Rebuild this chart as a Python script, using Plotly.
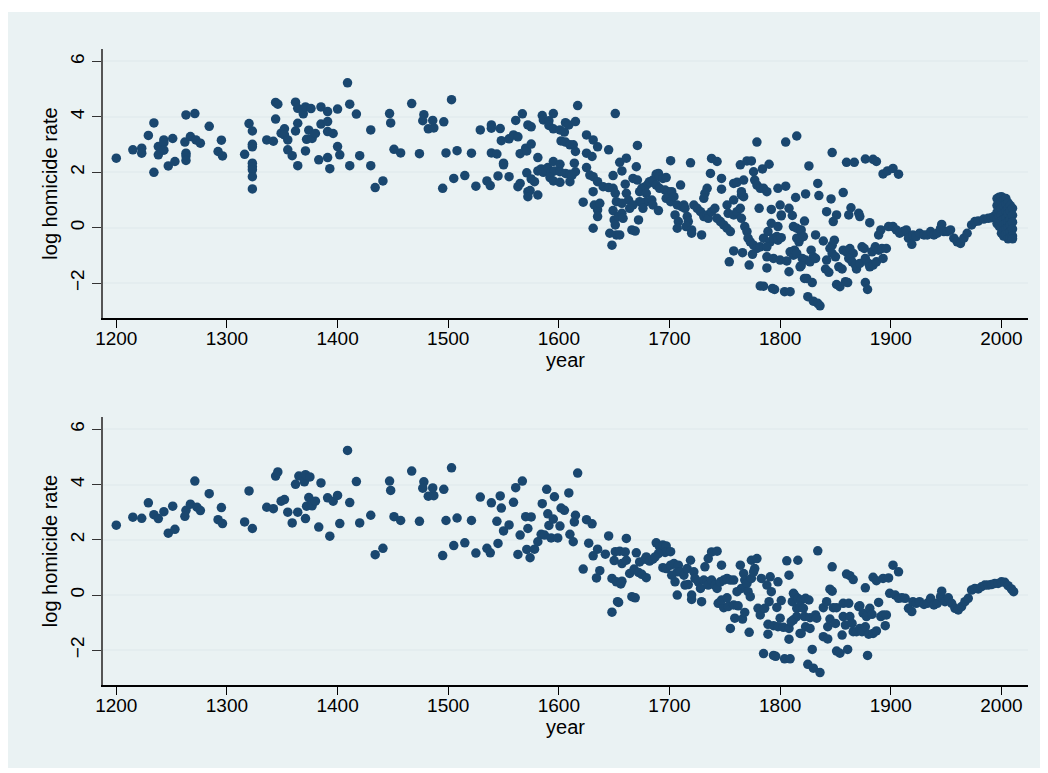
"""Log homicide rate by year: two stacked scatter panels (Stata s2color look)."""

import plotly.graph_objects as go

# ---- top panel -------------------------------------------------------------
top_year_early = [
    1200, 1215, 1223, 1223, 1229, 1234, 1234, 1238, 1238, 1243,
    1243, 1243, 1247, 1251, 1253, 1263, 1271, 1262, 1263, 1263,
    1263, 1267, 1272, 1276, 1284, 1292, 1296, 1295, 1316, 1320,
    1323, 1323, 1323, 1323, 1323, 1323, 1323, 1323, 1336, 1342,
    1344, 1346, 1344, 1349, 1352, 1352, 1355, 1355, 1359, 1362,
    1362, 1364, 1364, 1364, 1369, 1371, 1376, 1371, 1372, 1377,
    1374, 1380, 1383, 1385, 1385, 1391, 1391, 1391, 1396, 1391,
    1393, 1400, 1400, 1402,
]
top_rate_early = [
    2.51, 2.81, 2.87, 2.69, 3.33, 3.78, 2.00, 2.93, 2.63, 3.17,
    3.07, 2.80, 2.23, 3.22, 2.39, 4.07, 4.12, 3.09, 2.69, 2.59,
    2.43, 3.29, 3.17, 3.05, 3.66, 2.75, 2.59, 3.16, 2.65, 3.76,
    3.49, 3.01, 2.92, 2.33, 2.20, 2.09, 1.84, 1.40, 3.17, 3.12,
    4.52, 4.46, 3.92, 3.41, 3.57, 3.35, 3.17, 2.81, 2.60, 4.53,
    3.49, 4.31, 3.77, 2.24, 4.11, 4.36, 4.30, 2.77, 3.19, 3.22,
    3.52, 3.40, 2.45, 4.36, 3.74, 3.83, 4.19, 3.47, 3.40, 2.53,
    2.13, 4.28, 2.93, 2.63,
]

top_year_mid = [
    1409, 1411, 1411, 1417, 1420, 1430, 1430, 1434, 1441, 1447,
    1448, 1451, 1457, 1467, 1474, 1478, 1477, 1482, 1487, 1486,
    1496, 1503, 1495, 1498, 1508, 1505, 1515, 1521, 1525, 1529,
    1535, 1538, 1539, 1539, 1547, 1539, 1544, 1548, 1550, 1550,
    1545, 1555, 1555, 1559, 1563, 1561, 1567, 1565, 1570, 1571,
    1575, 1572, 1575, 1563, 1565, 1571, 1572, 1574, 1572, 1575,
    1578, 1581, 1581, 1585, 1586, 1591, 1591, 1595, 1595, 1601,
    1605, 1606, 1609, 1602, 1606, 1610, 1581, 1584, 1586, 1588,
    1590, 1593, 1595, 1596, 1601, 1601, 1606, 1610, 1592, 1595,
    1601, 1610,
]
top_rate_mid = [
    5.23, 4.46, 2.24, 4.10, 2.60, 3.53, 2.24, 1.45, 1.69, 4.12,
    3.78, 2.83, 2.70, 4.48, 2.67, 4.08, 3.86, 3.57, 3.60, 3.87,
    3.82, 4.62, 1.42, 2.70, 2.78, 1.78, 1.88, 2.69, 1.50, 3.53,
    1.69, 1.52, 3.71, 3.59, 3.58, 2.70, 2.66, 3.14, 2.33, 2.27,
    1.87, 1.84, 3.21, 3.35, 3.28, 3.87, 4.11, 2.67, 2.87, 2.77,
    3.02, 3.71, 3.64, 1.48, 1.60, 1.98, 1.30, 1.34, 1.12, 1.76,
    1.66, 1.18, 2.53, 4.05, 3.89, 3.86, 3.69, 4.12, 3.57, 3.53,
    3.45, 3.79, 3.71, 3.13, 3.09, 2.99, 2.05, 2.12, 2.00, 2.09,
    2.17, 2.00, 2.39, 2.05, 2.29, 2.02, 1.96, 1.93, 1.81, 1.69,
    1.64, 1.66,
]

top_year_late = [
    1615, 1613, 1615, 1614, 1615, 1612, 1617, 1622, 1625, 1631,
    1635, 1625, 1630, 1625, 1628, 1631, 1635, 1631, 1631, 1632,
    1635, 1637, 1635, 1640, 1645, 1649, 1645, 1651, 1655, 1661,
    1657, 1649, 1651, 1652, 1649, 1650, 1654, 1651, 1646, 1652,
    1655, 1648, 1671, 1670, 1660, 1661, 1663, 1657, 1657, 1658,
    1666, 1669, 1672, 1667, 1671, 1673, 1675, 1678, 1679, 1681,
    1682, 1685, 1688, 1690, 1691, 1694, 1697, 1688, 1691, 1696,
    1699, 1679, 1673, 1667, 1664, 1676, 1684, 1685, 1690, 1697,
    1701, 1702, 1704, 1707, 1705, 1708, 1707, 1710, 1711, 1701,
    1719, 1713, 1714, 1716, 1717, 1715, 1720, 1720, 1729, 1722,
    1725, 1728, 1731, 1734, 1735, 1738, 1741, 1743, 1746, 1749,
    1752, 1755, 1752, 1753, 1758, 1761, 1764, 1765, 1768, 1770,
    1771, 1773, 1776, 1779, 1782, 1785, 1789, 1792, 1791, 1794,
    1797, 1798, 1801, 1738, 1743, 1737, 1747, 1747, 1734, 1732,
    1731, 1758, 1758, 1761, 1765, 1767, 1765, 1764, 1770, 1774,
    1776, 1767, 1777, 1779, 1782, 1785, 1788, 1779, 1784, 1790,
    1781, 1792, 1798, 1800, 1801, 1805, 1808, 1812, 1814, 1815,
    1805, 1815, 1754, 1772, 1775, 1758, 1766, 1782, 1785, 1793,
    1795, 1804, 1809, 1788, 1794, 1800, 1806, 1812, 1788, 1808,
    1818, 1788, 1798, 1801, 1809, 1817, 1818,
]
top_rate_late = [
    3.83, 2.99, 2.75, 2.33, 2.02, 1.90, 4.41, 0.92, 3.35, 3.17,
    2.92, 2.69, 2.57, 2.17, 1.90, 1.84, 1.66, 1.30, -0.02, 0.82,
    0.64, 0.88, 0.40, 1.48, 1.45, 1.42, 2.81, 4.12, 2.36, 2.51,
    2.05, 1.88, 1.24, 0.94, 0.62, 0.28, 0.40, 0.10, -0.20, -0.26,
    -0.26, -0.63, 2.97, 2.20, 1.57, 1.24, 1.00, 0.88, 0.52, 0.34,
    -0.08, -0.12, 0.28, 1.78, 1.72, 1.30, 1.42, 1.48, 1.24, 1.60,
    1.66, 1.72, 1.93, 1.96, 1.84, 1.78, 1.81, 1.54, 1.42, 1.36,
    1.30, 0.94, 0.94, 0.82, 0.70, 0.70, 1.00, 0.82, 0.62, 1.06,
    0.94, 1.30, 1.12, 0.82, 0.46, 0.22, -0.02, 1.54, 0.76, 2.42,
    2.34, 0.82, 0.70, 0.40, 0.22, 0.04, -0.08, -0.20, -0.26, 0.82,
    0.70, 0.58, 0.40, 0.46, 0.34, 0.58, 0.70, 0.34, 0.22, 0.10,
    -0.02, -0.14, 0.82, 0.52, 0.46, 0.58, 0.70, 0.34, 0.04, -0.14,
    -0.38, -0.51, -0.63, -0.75, -0.69, -0.38, -0.14, 0.16, -0.51, -0.38,
    -0.32, 0.04, 0.46, 2.50, 2.39, 1.96, 1.78, 1.39, 1.42, 1.24,
    1.06, 1.00, 1.60, 1.64, 1.18, 1.12, 1.30, 2.27, 2.41, 2.41,
    2.02, 1.72, 1.72, 1.54, 1.42, 1.42, 1.30, 3.09, 2.12, 2.29,
    0.70, 0.66, 1.42, 0.82, 0.43, 1.50, 0.70, 0.04, 1.09, -0.38,
    3.09, 3.31, -1.23, -1.35, -0.96, -0.84, -0.90, -2.10, -2.11, -2.19,
    -2.23, -2.31, -2.31, -1.05, -1.11, -1.17, -1.20, -0.99, -1.45, -1.59,
    -1.41, -0.69, -0.45, -0.36, -0.87, -0.51, -0.08,
]

top_year_1800s = [
    1811, 1815, 1819, 1818, 1821, 1813, 1815, 1823, 1826, 1822,
    1820, 1823, 1819, 1822, 1824, 1829, 1825, 1830, 1834, 1836,
    1832, 1828, 1830, 1827, 1832, 1834, 1835, 1839, 1842, 1846,
    1847, 1851, 1848, 1849, 1847, 1845, 1847, 1842, 1841, 1844,
    1850, 1853, 1856, 1851, 1854, 1859, 1861, 1857, 1860, 1867,
    1864, 1862, 1871, 1872, 1857, 1860, 1863, 1866, 1862, 1865,
    1868, 1869, 1872, 1874, 1876, 1877, 1880, 1881, 1884, 1887,
    1883, 1886, 1889, 1892, 1896, 1893, 1889, 1891, 1877, 1879,
    1877, 1884, 1887, 1893, 1897, 1902, 1907, 1881,
]
top_rate_1800s = [
    0.44, -0.02, -0.08, -0.38, -0.32, -0.81, -0.93, 1.22, 2.23, 0.24,
    -1.11, -1.17, -1.37, -1.83, -1.83, -1.98, -2.49, -2.65, -2.73, -2.82,
    -0.26, -0.81, -1.05, -1.23, -1.11, 1.60, 1.16, -0.48, 0.58, 1.04,
    2.71, 0.46, 0.22, -0.45, -0.63, -0.75, -0.93, -1.17, -1.49, -1.61,
    -1.05, -1.41, -1.49, -2.05, -2.13, -1.95, -1.98, 1.27, 2.36, 2.36,
    0.72, 0.46, 0.52, 0.40, -0.81, -0.87, -0.75, -0.93, -1.11, -1.23,
    -1.35, -1.49, -1.29, -0.69, -0.75, -1.11, -1.29, -1.41, -1.35, -1.23,
    -0.87, -0.69, -0.81, -0.75, -0.75, -1.11, -0.26, -0.08, -1.98, -2.23,
    2.48, 2.47, 2.39, 1.94, 2.05, 2.14, 1.93, 0.18,
]

top_year_1900s = [
    1898, 1902, 1905, 1908, 1911, 1914, 1916, 1919, 1920, 1923,
    1926, 1930, 1933, 1936, 1939, 1942, 1945, 1946, 1948, 1951,
    1954, 1957, 1960, 1963, 1966, 1969, 1973, 1976, 1979, 1984,
    1988, 1991, 1993,
]
top_rate_1900s = [
    0.04, 0.04, -0.08, -0.20, -0.14, -0.08, -0.38, -0.60, -0.26, -0.32,
    -0.20, -0.26, -0.26, -0.14, -0.26, -0.20, -0.02, 0.12, -0.14, -0.14,
    -0.08, -0.38, -0.51, -0.57, -0.38, -0.20, 0.10, 0.22, 0.24, 0.31,
    0.34, 0.36, 0.40,
]

# many countries after 1995
top_year_recent = [
    1996, 1996, 1996, 1996, 1996,
    1998, 1998, 1998, 1998, 1998, 1998,
    2000, 2000, 2000, 2000, 2000, 2000, 2000,
    2002, 2002, 2002, 2002, 2002, 2002, 2002,
    2004, 2004, 2004, 2004, 2004, 2004, 2004,
    2006, 2006, 2006, 2006, 2006, 2006, 2006,
    2008, 2008, 2008, 2008, 2008, 2008,
    2010, 2010, 2010, 2010, 2010, 2010,
]
top_rate_recent = [
    1.05, 0.80, 0.55, 0.30, 0.15,
    1.10, 0.90, 0.60, 0.40, 0.20, 0.05,
    1.12, 0.95, 0.70, 0.45, 0.25, 0.00, -0.20,
    1.00, 0.80, 0.50, 0.30, 0.10, -0.10, -0.30,
    1.05, 0.85, 0.60, 0.35, 0.15, -0.05, -0.25,
    0.90, 0.70, 0.50, 0.20, 0.00, -0.20, -0.40,
    0.80, 0.60, 0.30, 0.10, -0.15, -0.35,
    0.70, 0.45, 0.20, -0.05, -0.30, -0.40,
]

# ---- bottom panel ----------------------------------------------------------
bot_year_early = [
    1200, 1215, 1223, 1229, 1234, 1238, 1243, 1247, 1253, 1251,
    1263, 1262, 1267, 1271, 1273, 1276, 1284, 1292, 1296, 1295,
    1316, 1320, 1323, 1336, 1342, 1344, 1346, 1349, 1352, 1355,
    1359, 1362, 1364, 1365, 1370, 1371, 1375, 1371, 1374, 1372,
    1377, 1380, 1383, 1385, 1391, 1396, 1393, 1400, 1402, 1409,
    1411, 1417, 1420, 1430, 1434, 1441, 1447, 1448, 1451, 1457,
    1467, 1474, 1478, 1477, 1482, 1487, 1486, 1496, 1503, 1495,
    1498, 1508, 1505, 1515, 1521, 1525, 1529, 1535, 1538, 1539,
    1547, 1544, 1548, 1550, 1545, 1555, 1559, 1561, 1567, 1563,
    1565, 1570, 1575, 1572, 1571, 1574, 1578, 1581, 1585, 1589,
    1590, 1591, 1595, 1596, 1601, 1602, 1605, 1584, 1587, 1593,
    1599, 1609, 1610,
]
bot_rate_early = [
    2.53, 2.82, 2.78, 3.34, 2.91, 2.77, 3.02, 2.24, 2.38, 3.22,
    3.07, 2.85, 3.29, 4.13, 3.18, 3.06, 3.67, 2.73, 2.59, 3.17,
    2.65, 3.77, 2.41, 3.18, 3.13, 4.31, 4.46, 3.40, 3.46, 3.00,
    2.61, 4.01, 3.00, 4.31, 4.10, 4.36, 4.28, 2.77, 3.53, 3.22,
    3.23, 3.40, 2.46, 4.06, 3.52, 3.40, 2.13, 3.61, 2.59, 5.24,
    3.35, 4.11, 2.61, 2.89, 1.46, 1.69, 4.13, 3.79, 2.84, 2.70,
    4.49, 2.67, 4.10, 3.87, 3.58, 3.60, 3.88, 3.83, 4.61, 1.43,
    2.70, 2.79, 1.79, 1.89, 2.70, 1.52, 3.55, 1.69, 1.53, 3.34,
    3.59, 2.67, 3.15, 2.32, 1.87, 2.54, 3.36, 3.89, 4.13, 1.47,
    2.17, 2.84, 2.83, 2.41, 1.65, 1.35, 1.66, 1.93, 3.31, 3.83,
    2.94, 2.52, 2.75, 3.56, 2.50, 3.15, 3.07, 2.20, 2.17, 2.07,
    2.07, 3.70, 2.20,
]

bot_year_late = [
    1617, 1615, 1614, 1613, 1622, 1625, 1630, 1627, 1631, 1635,
    1637, 1634, 1642, 1645, 1648, 1650, 1651, 1655, 1648, 1654,
    1653, 1652, 1657, 1656, 1657, 1661, 1660, 1661, 1666, 1669,
    1664, 1668, 1672, 1675, 1679, 1670, 1673, 1678, 1679, 1682,
    1685, 1688, 1691, 1694, 1697, 1696, 1701, 1690, 1687, 1694,
    1697, 1701, 1704, 1708, 1707, 1702, 1705, 1707, 1710, 1713,
    1714, 1717, 1716, 1719, 1720, 1720, 1722, 1723, 1726, 1728,
    1729, 1731, 1734, 1735, 1738, 1741, 1743, 1746, 1749, 1752,
    1755, 1758, 1732, 1735, 1738, 1743, 1747, 1744, 1749, 1753,
    1758, 1762, 1747, 1752, 1759, 1755, 1766, 1768, 1772, 1764,
    1767, 1768, 1765, 1761, 1770, 1771, 1773, 1774, 1774, 1777,
    1779, 1776, 1780, 1782, 1786, 1783, 1788, 1791, 1792, 1790,
    1798, 1801, 1797, 1800, 1806, 1808, 1812, 1811, 1815, 1816,
    1818, 1789, 1794, 1798, 1803, 1808, 1789, 1808, 1785, 1794,
    1796, 1804, 1809, 1812, 1815,
]
bot_rate_late = [
    4.42, 2.89, 2.65, 1.93, 0.94, 2.73, 2.58, 1.88, 1.42, 1.66,
    0.88, 0.62, 1.48, 2.14, 0.60, 1.25, 1.57, 1.59, -0.62, -0.27,
    -0.24, 0.48, 0.50, 0.40, 1.14, 1.26, 1.56, 2.05, -0.06, -0.10,
    0.78, 0.94, 0.82, 0.75, 0.63, 1.53, 1.20, 1.30, 1.38, 1.23,
    1.30, 1.89, 1.75, 1.81, 1.78, 1.54, 1.57, 1.50, 1.38, 0.99,
    0.96, 1.08, 1.14, 1.08, 0.84, 0.72, 0.48, 0.00, 0.84, 0.72,
    0.36, 0.38, 0.96, 1.26, 0.00, -0.16, 0.84, 0.60, 0.48, 0.24,
    -0.24, 0.54, 0.48, 0.36, 0.54, 0.36, 0.24, 0.48, 0.54, 0.60,
    0.54, 0.54, 1.02, 1.32, 1.56, 1.59, 1.08, -0.30, -0.46, -0.42,
    -0.36, -0.39, -0.18, -0.10, -0.84, -1.21, -0.87, -0.63, -1.35, 1.08,
    0.78, 0.54, 0.24, 0.12, 0.42, 0.12, -0.06, 0.60, 1.26, 0.96,
    1.32, 0.84, -0.48, -0.72, -0.48, 0.60, 0.36, 0.66, 0.12, -0.24,
    0.48, -0.20, -0.45, -0.84, 1.24, 0.72, 0.06, -0.24, -0.48, 1.26,
    -1.39, -1.06, -1.11, -1.15, -1.17, -1.21, -1.42, -1.60, -2.12, -2.19,
    -2.22, -2.31, -2.31, -0.90, -0.78,
]

bot_year_1800s = [
    1813, 1816, 1819, 1823, 1826, 1818, 1821, 1810, 1834, 1822,
    1827, 1832, 1833, 1823, 1827, 1819, 1829, 1825, 1830, 1836,
    1839, 1842, 1839, 1843, 1843, 1845, 1847, 1845, 1847, 1848,
    1851, 1850, 1851, 1854, 1861, 1856, 1857, 1862, 1857, 1859,
    1863, 1865, 1866, 1869, 1872, 1874, 1871, 1872, 1875, 1878,
    1877, 1881, 1883, 1880, 1884, 1887, 1889, 1891, 1893, 1895,
    1896, 1860, 1863, 1866, 1877, 1879, 1884, 1887, 1893, 1898,
    1902, 1907,
]
bot_rate_1800s = [
    0.00, -0.12, -0.18, -0.12, -0.18, -0.42, -0.48, -0.96, 1.60, -0.78,
    -0.82, -0.72, -0.84, -1.15, -1.21, -1.39, -1.97, -2.51, -2.65, -2.81,
    -0.46, -0.24, -1.51, -1.59, -1.15, -0.87, 0.14, 0.21, 1.02, -0.46,
    -0.46, -1.03, -2.03, -2.11, -1.97, -1.45, -0.30, -0.30, -0.78, -1.09,
    -0.78, -1.03, -1.33, -1.33, -1.21, -1.33, -0.42, -0.39, -0.66, -0.78,
    -1.15, -0.48, -0.70, -1.42, -1.39, -1.30, -0.27, -0.78, -0.72, -1.11,
    -0.72, 0.76, 0.70, 0.56, 0.26, -2.19, 0.64, 0.52, 0.60, 0.62,
    1.08, 0.84,
]

bot_year_1900s = [
    1899, 1904, 1907, 1910, 1913, 1916, 1919, 1920, 1923, 1926,
    1930, 1933, 1936, 1939, 1942, 1945, 1946, 1949, 1952, 1955,
    1958, 1961, 1964, 1967, 1970, 1973, 1976, 1979, 1982, 1985,
    1988, 1991, 1994, 1997, 2000, 2003, 2006, 2009, 2011,
]
bot_rate_1900s = [
    0.06, 0.00, -0.12, -0.10, -0.12, -0.48, -0.60, -0.24, -0.30, -0.24,
    -0.34, -0.30, -0.12, -0.36, -0.30, -0.06, 0.14, -0.24, -0.10, -0.30,
    -0.48, -0.54, -0.42, -0.24, -0.12, 0.18, 0.24, 0.22, 0.30, 0.36,
    0.36, 0.38, 0.42, 0.42, 0.48, 0.46, 0.34, 0.22, 0.12,
]

x_ticks = [1200, 1300, 1400, 1500, 1600, 1700, 1800, 1900, 2000]
y_ticks = [-2, 0, 2, 4, 6]

top_year = top_year_early + top_year_mid + top_year_late + top_year_1800s + top_year_1900s + top_year_recent
top_rate = top_rate_early + top_rate_mid + top_rate_late + top_rate_1800s + top_rate_1900s + top_rate_recent
bot_year = bot_year_early + bot_year_late + bot_year_1800s + bot_year_1900s
bot_rate = bot_rate_early + bot_rate_late + bot_rate_1800s + bot_rate_1900s

NAVY = "#1A476F"
BG = "#EAF2F3"
FONT = "Liberation Sans, Arial, sans-serif"

fig = go.Figure()

marker = {"color": NAVY, "size": 9.5, "line": {"width": 0}}
fig.add_trace(go.Scatter(x=top_year, y=top_rate, mode="markers", marker=marker, xaxis="x", yaxis="y"))
fig.add_trace(go.Scatter(x=bot_year, y=bot_rate, mode="markers", marker=marker, xaxis="x2", yaxis="y2"))

xaxis_style = {
    "range": [1188, 2024],
    "tickvals": x_ticks,
    "ticks": "outside",
    "ticklen": 8,
    "tickcolor": "#000000",
    "ticklabelstandoff": -6,
    "showline": True,
    "linecolor": "#000000",
    "linewidth": 1.5,
    "showgrid": False,
    "zeroline": False,
    "tickfont": {"size": 19, "color": "#000000"},
    "title": {"text": "year", "font": {"size": 20, "color": "#000000"}, "standoff": 2},
}
yaxis_style = {
    "range": [-3.26, 6.45],
    "tickvals": y_ticks,
    "tickangle": -90,
    "ticks": "outside",
    "ticklen": 9,
    "tickcolor": "#333333",
    "showline": True,
    "linecolor": "#555555",
    "linewidth": 2,
    "showgrid": True,
    "gridcolor": "#E4EDEF",
    "gridwidth": 2,
    "zeroline": False,
    "tickfont": {"size": 19, "color": "#000000"},
    "title": {"text": "log homicide rate", "font": {"size": 20, "color": "#000000"}, "standoff": 4},
}

# the page body adds an 8px offset, so the figure is 8px smaller than the window
fig.update_layout(
    width=1040,
    height=765,
    margin={"l": 95, "r": 20, "t": 41, "b": 88},
    paper_bgcolor="white",
    plot_bgcolor="white",
    font={"family": FONT, "color": "#000000"},
    showlegend=False,
    xaxis={**xaxis_style, "domain": [0, 1], "anchor": "y"},
    yaxis={**yaxis_style, "domain": [0.577, 1.0], "anchor": "x"},
    xaxis2={**xaxis_style, "domain": [0, 1], "anchor": "y2"},
    yaxis2={**yaxis_style, "domain": [0.0, 0.4214], "anchor": "x2"},
    shapes=[
        # light bluish-gray graph region behind both panels
        {
            "type": "rect",
            "xref": "paper",
            "yref": "paper",
            "x0": -0.1038,
            "x1": 1.0184,
            "y0": -0.1305,
            "y1": 1.0582,
            "fillcolor": BG,
            "line": {"width": 0},
            "layer": "below",
        }
    ],
)

fig.write_html("out.html")
